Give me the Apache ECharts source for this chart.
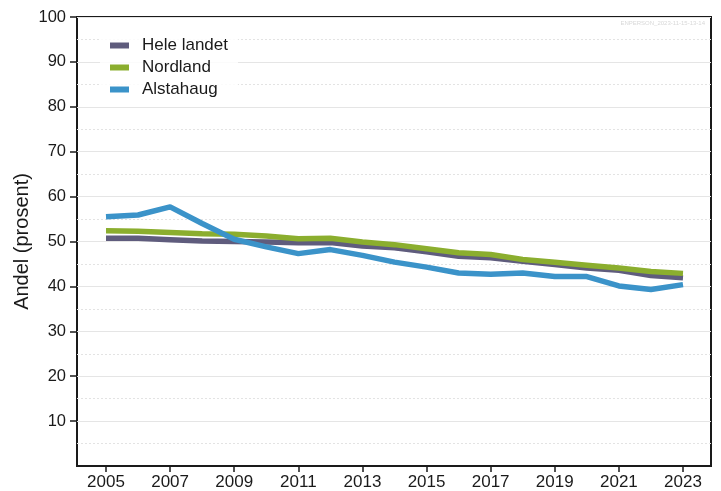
<!DOCTYPE html>
<html>
<head>
<meta charset="utf-8">
<script src="https://cdn.jsdelivr.net/npm/echarts@6/dist/echarts.min.js"></script>
<style>html,body{margin:0;padding:0;background:#fff}#c{width:721px;height:491px}</style>
</head>
<body>
<div id="c"></div>
<script>
const years = [2005,2006,2007,2008,2009,2010,2011,2012,2013,2014,2015,2016,2017,2018,2019,2020,2021,2022,2023];
const heleLandet = [50.7,50.7,50.4,50.1,50.0,49.9,49.7,49.8,49.0,48.6,47.7,46.7,46.4,45.6,44.9,44.1,43.6,42.4,41.9];
const nordland   = [52.4,52.3,52.0,51.7,51.6,51.2,50.6,50.7,49.9,49.3,48.4,47.5,47.1,46.0,45.4,44.7,44.1,43.3,42.9];
const alstahaug  = [55.5,55.9,57.7,54.0,50.5,48.8,47.3,48.2,46.9,45.4,44.3,43.0,42.7,43.0,42.2,42.2,40.1,39.3,40.4];
const seriesNames = ['Hele landet','Nordland','Alstahaug'];
const yTicks = [10,20,30,40,50,60,70,80,90,100];
const xTicks = [2005,2007,2009,2011,2013,2015,2017,2019,2021,2023];
const watermark = 'ENPERSON_2023-11-15-13-14';

const colors = ['#5f5c7d','#8bae2e','#3b93c9'];
const font = 'Liberation Sans, Arial, sans-serif';
const pair = arr => years.map((y,i)=>[y,arr[i]]);

const chart = echarts.init(document.getElementById('c'), null, {renderer:'canvas'});
chart.setOption({
  animation:false,
  backgroundColor:'#fff',
  textStyle:{fontFamily:font},
  grid:[
    {left:77,right:10,top:17,bottom:25,show:true,borderColor:'#1a1a1a',borderWidth:2,backgroundColor:'transparent'},
    {left:106,right:38,top:17,bottom:25}
  ],
  legend:{
    data:seriesNames.map((n,i)=>({name:n,icon:'rect',itemStyle:{color:colors[i]}})),
    orient:'vertical',left:100,top:29,padding:[8,10],
    backgroundColor:'rgba(255,255,255,0.85)',
    itemWidth:19,itemHeight:6,itemGap:5,
    textStyle:{fontSize:17,color:'#1a1a1a',fontFamily:font,lineHeight:17,padding:[0,0,0,8]}
  },
  xAxis:[
    {gridIndex:0,type:'value',min:0,max:1,show:false},
    {gridIndex:1,type:'value',min:2005,max:2023,interval:2,
     axisLine:{show:false},
     axisTick:{show:true,length:6,lineStyle:{color:'#1a1a1a',width:1.5},customValues:xTicks},
     axisLabel:{fontSize:17,color:'#1a1a1a',margin:8,customValues:xTicks,fontFamily:font,formatter:v=>String(v)},
     splitLine:{show:false}}
  ],
  yAxis:[
    {gridIndex:0,type:'value',min:0,max:100,interval:10,
     name:'Andel (prosent)',nameLocation:'middle',nameRotate:90,nameGap:45,nameMoveOverlap:false,
     nameTextStyle:{fontSize:20,color:'#1a1a1a',fontFamily:font},
     axisLine:{show:false},
     axisTick:{show:true,length:7,lineStyle:{color:'#1a1a1a',width:1.5},customValues:yTicks},
     axisLabel:{fontSize:16.5,color:'#1a1a1a',margin:11,customValues:yTicks,fontFamily:font,formatter:v=>String(v)},
     splitLine:{show:true,lineStyle:{color:'#e5e5e5',width:1}},
     minorTick:{show:false,splitNumber:2},
     minorSplitLine:{show:true,lineStyle:{color:'#e3e3e3',width:1,type:[2,2]}}},
    {gridIndex:1,type:'value',min:0,max:100,show:false}
  ],
  graphic:[{type:'text',right:16,top:20,style:{text:watermark,fontSize:6,fill:'#d8d8d8',fontFamily:font}}],
  series:[heleLandet,nordland,alstahaug].map((arr,i)=>({
    name:seriesNames[i],type:'line',xAxisIndex:1,yAxisIndex:1,data:pair(arr),
    showSymbol:false,symbol:'none',
    lineStyle:{color:colors[i],width:5.5,join:'round',cap:'butt'},
    itemStyle:{color:colors[i]},z:2+i
  }))
});
</script>
</body>
</html>
